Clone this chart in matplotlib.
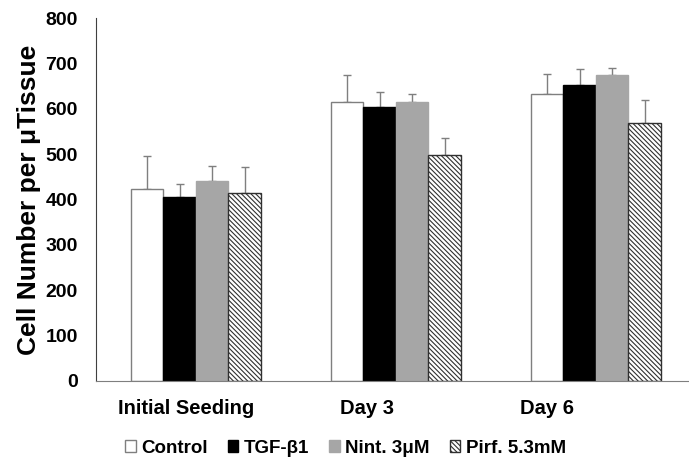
import numpy as np
import matplotlib
matplotlib.use('Agg')
import matplotlib.pyplot as plt

plt.rcParams['font.family'] = ['Liberation Sans', 'DejaVu Sans']
plt.rcParams['font.weight'] = 'bold'
plt.rcParams['axes.labelweight'] = 'bold'
plt.rcParams['hatch.linewidth'] = 0.8

categories = ['Initial Seeding', 'Day 3', 'Day 6']
label_pos = [-0.05, 0.855, 1.755]
series = ['Control', 'TGF-β1', 'Nint. 3μM', 'Pirf. 5.3mM']
values = [
    [422, 616, 632],   # Control
    [406, 605, 653],   # TGF-b1
    [440, 616, 674],   # Nint
    [415, 499, 569],   # Pirf
]
errors = [
    [74, 58, 45],
    [29, 32, 34],
    [34, 17, 17],
    [57, 37, 51],
]

faces = ['white', 'black', '#a6a6a6', 'white']
edges = ['#7f7f7f', 'black', '#a6a6a6', '#303030']
hatches = [None, None, None, '\\\\\\\\\\\\\\']

fig = plt.figure(figsize=(6.89, 4.66), dpi=100)
ax = fig.add_axes([0.1393, 0.183, 0.8607, 0.778])

x = np.arange(len(categories))
w = 0.1625
for i, s in enumerate(series):
    pos = x + (i - 1.5) * w
    ax.bar(pos, values[i], w, color=faces[i], edgecolor=edges[i],
           hatch=hatches[i], linewidth=1, label=s, zorder=2)
    ax.errorbar(pos, values[i], yerr=[np.zeros(3), errors[i]], fmt='none',
                ecolor='#7f7f7f', elinewidth=1, capsize=3, capthick=1, zorder=1)

ax.set_xlim(-0.5, 2.465)
ax.set_ylim(0, 800)
ax.set_yticks(range(0, 801, 100))
ax.set_xticks(label_pos, categories)
ax.tick_params(axis='y', length=0, pad=13, labelsize=14)
ax.tick_params(axis='x', length=0, pad=13, labelsize=14.5)
for sp in ['top', 'right']:
    ax.spines[sp].set_visible(False)
ax.spines['left'].set_color('#404040')
ax.spines['bottom'].set_color('#7f7f7f')
ax.set_ylabel('Cell Number per μTissue', fontsize=19, labelpad=3)

fig.legend(loc='center', bbox_to_anchor=(0.5015, 0.0386), ncol=4, frameon=False,
           fontsize=13.5, handlelength=0.55, handleheight=0.55, handletextpad=0.3,
           columnspacing=1.07)

fig.savefig('out.png', dpi=100)
